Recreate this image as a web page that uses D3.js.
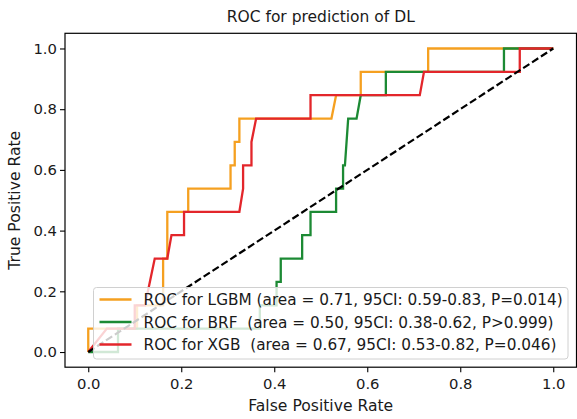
<!DOCTYPE html>
<html><head><meta charset="utf-8">
<script src="https://cdn.jsdelivr.net/npm/d3@7"></script>
<style>
html,body{margin:0;padding:0;background:#fff;}
text{font-family:"DejaVu Sans",sans-serif;fill:#1a1a1a;}
</style></head>
<body>
<svg id="chart" width="577" height="419"></svg>
<script>
// ---- data ----
const tickValues = [0.0, 0.2, 0.4, 0.6, 0.8, 1.0];
const seriesNames = ["LGBM", "BRF", "XGB"];
const legendLabels = [
  "ROC for LGBM (area = 0.71, 95CI: 0.59-0.83, P=0.014)",
  "ROC for BRF  (area = 0.50, 95CI: 0.38-0.62, P>0.999)",
  "ROC for XGB  (area = 0.67, 95CI: 0.53-0.82, P=0.046)"
];
const lgbmFPR = [0, 0, 0.105, 0.105, 0.161, 0.161, 0.170, 0.170, 0.215, 0.215, 0.306, 0.306, 0.315, 0.315, 0.325, 0.325, 0.523, 0.533, 0.586, 0.586, 0.731, 0.731, 1.0];
const lgbmTPR = [0, 0.077, 0.077, 0.154, 0.154, 0.308, 0.308, 0.462, 0.462, 0.538, 0.538, 0.615, 0.615, 0.692, 0.692, 0.769, 0.769, 0.846, 0.846, 0.923, 0.923, 1.0, 1.0];
const brfFPR = [0, 0.064, 0.064, 0.369, 0.369, 0.405, 0.405, 0.414, 0.414, 0.460, 0.460, 0.478, 0.478, 0.533, 0.533, 0.548, 0.548, 0.552, 0.559, 0.577, 0.586, 0.640, 0.640, 0.894, 0.894, 1.0];
const brfTPR = [0, 0, 0.077, 0.077, 0.154, 0.154, 0.231, 0.231, 0.308, 0.308, 0.385, 0.385, 0.462, 0.462, 0.538, 0.538, 0.615, 0.615, 0.769, 0.769, 0.846, 0.846, 0.923, 0.923, 1.0, 1.0];
const xgbFPR = [0, 0.04, 0.10, 0.10, 0.122, 0.143, 0.170, 0.179, 0.206, 0.206, 0.325, 0.333, 0.333, 0.351, 0.351, 0.361, 0.478, 0.478, 0.713, 0.722, 0.928, 0.928, 1.0];
const xgbTPR = [0, 0.077, 0.077, 0.154, 0.154, 0.308, 0.308, 0.385, 0.385, 0.462, 0.462, 0.538, 0.615, 0.615, 0.692, 0.769, 0.769, 0.846, 0.846, 0.923, 0.923, 1.0, 1.0];
const chanceX = [0, 1];
const chanceY = [0, 1];
const colors = ["#f5a020", "#1c8a34", "#e3262b"];

// ---- layout ----
const svg = d3.select("#chart");
const pLeft = 65, pRight = 576.5, pTop = 33.3, pBottom = 367.2;
const x = d3.scaleLinear().domain([-0.05, 1.05]).range([pLeft, pRight]);
const y = d3.scaleLinear().domain([-0.05, 1.05]).range([pBottom, pTop]);

const series = [
  {fpr: lgbmFPR, tpr: lgbmTPR},
  {fpr: brfFPR, tpr: brfTPR},
  {fpr: xgbFPR, tpr: xgbTPR}
];
const line = d3.line().x(d => x(d[0])).y(d => y(d[1]));

const plot = svg.append("g");
series.forEach((s, i) => {
  plot.append("path")
    .datum(s.fpr.map((f, j) => [f, s.tpr[j]]))
    .attr("d", line)
    .attr("fill", "none")
    .attr("stroke", colors[i])
    .attr("stroke-width", 2.3)
    .attr("stroke-linejoin", "miter");
});
plot.append("path")
  .datum(chanceX.map((v, j) => [v, chanceY[j]]))
  .attr("d", line)
  .attr("fill", "none")
  .attr("stroke", "#000")
  .attr("stroke-width", 2.2)
  .attr("stroke-dasharray", "7.4,3.2");

// axes
const fmt = d3.format(".1f");
const xAxis = svg.append("g").attr("transform", `translate(0,${pBottom})`)
  .call(d3.axisBottom(x).tickValues(tickValues).tickFormat(fmt).tickSize(5).tickSizeOuter(0));
const yAxis = svg.append("g").attr("transform", `translate(${pLeft},0)`)
  .call(d3.axisLeft(y).tickValues(tickValues).tickFormat(fmt).tickSize(5).tickSizeOuter(0));
[xAxis, yAxis].forEach(a => {
  a.select(".domain").remove();
  a.selectAll(".tick line").attr("stroke", "#000").attr("stroke-width", 1.1);
  a.selectAll(".tick text").attr("font-size", 14.8).attr("font-family", "DejaVu Sans").attr("fill", "#1a1a1a");
});
xAxis.selectAll(".tick text").attr("dy", "0.95em").attr("y", 8);
yAxis.selectAll(".tick text").attr("x", -8);

// frame
svg.append("rect").attr("x", pLeft).attr("y", pTop)
  .attr("width", pRight - pLeft).attr("height", pBottom - pTop)
  .attr("fill", "none").attr("stroke", "#000").attr("stroke-width", 1.2);

// titles
svg.append("text").attr("x", (pLeft + pRight) / 2).attr("y", 22)
  .attr("text-anchor", "middle").attr("font-size", 15.5).text("ROC for prediction of DL");
svg.append("text").attr("x", (pLeft + pRight) / 2).attr("y", 411)
  .attr("text-anchor", "middle").attr("font-size", 15.6).text("False Positive Rate");
svg.append("text").attr("transform", `translate(20,${(pTop + pBottom) / 2}) rotate(-90)`)
  .attr("text-anchor", "middle").attr("font-size", 15.6).text("True Positive Rate");

// legend
const lg = svg.append("g");
lg.append("rect").attr("x", 93.5).attr("y", 287.5).attr("width", 474.5).attr("height", 71.5)
  .attr("rx", 3).attr("fill", "#fff").attr("fill-opacity", 0.8)
  .attr("stroke", "#d0d0d0").attr("stroke-width", 1);
const rowY = [299.5, 322, 344.5];
legendLabels.forEach((lab, i) => {
  lg.append("line").attr("x1", 99.5).attr("x2", 131.5).attr("y1", rowY[i]).attr("y2", rowY[i])
    .attr("stroke", colors[i]).attr("stroke-width", 2.3);
  lg.append("text").attr("x", 143.5).attr("y", rowY[i]).attr("dy", "0.36em")
    .attr("font-size", 15.3).style("white-space", "pre").text(lab);
});
</script>
</body></html>
